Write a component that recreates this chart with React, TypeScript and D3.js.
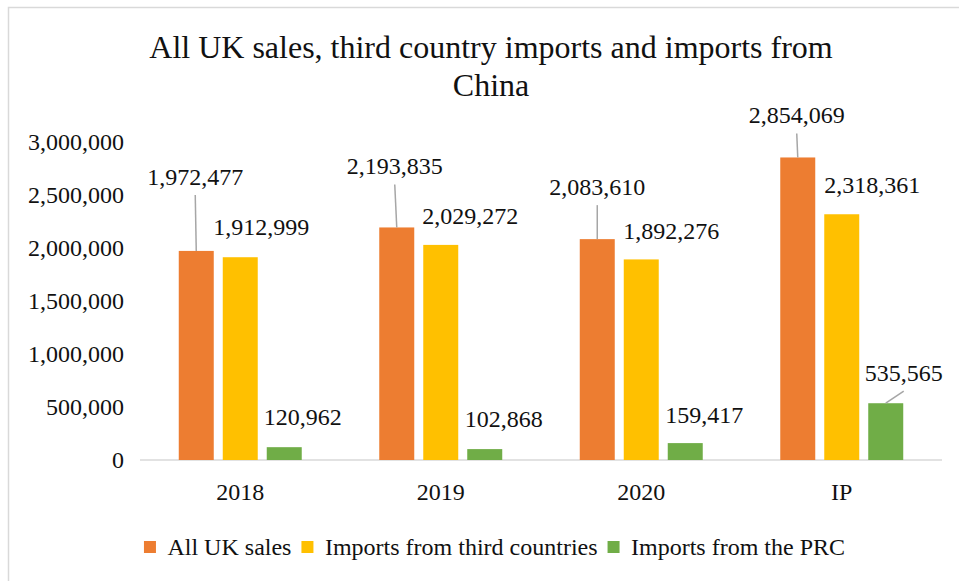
import React from "react";
import * as d3 from "d3";

const categories = ["2018", "2019", "2020", "IP"];
const seriesNames = ["All UK sales", "Imports from third countries", "Imports from the PRC"];
const allUkSales = [1972477, 2193835, 2083610, 2854069];
const thirdCountryImports = [1912999, 2029272, 1892276, 2318361];
const prcImports = [120962, 102868, 159417, 535565];
const yTicks = [0, 500000, 1000000, 1500000, 2000000, 2500000, 3000000];
const titleLines = ["All UK sales, third country imports and imports from", "China"];

// label placement (px, relative to bar top centre) – layout only
const labelNudges = [
  [[-1, -74], [-2, -61], [0, -52], [-1, -42]],
  [[21, -30], [29.5, -28.5], [30, -28.5], [30.5, -29]],
  [[18.5, -30], [19, -30], [19, -28], [18, -30]],
];
const labelLeaders = [
  [true, true, true, true],
  [false, false, false, false],
  [false, false, false, true],
];

const colors = ["#ED7D31", "#FFC000", "#70AD47"];
const FONT = "'Liberation Serif', 'Times New Roman', serif";
const W = 959;
const H = 581;

function measure(text: string, size: number) {
  const c = document.createElement("canvas").getContext("2d");
  if (!c) return text.length * size * 0.45;
  c.font = `${size}px 'Liberation Serif'`;
  return c.measureText(text).width;
}

export default function App() {
  const values = [allUkSales, thirdCountryImports, prcImports];
  const x0 = d3.scaleBand<string>().domain(categories).range([140, 942]).padding(0);
  const x1 = d3
    .scaleBand<string>()
    .domain(seriesNames)
    .range([0, x0.bandwidth()])
    .paddingInner(9 / 44)
    .paddingOuter(0.881);
  const y = d3.scaleLinear().domain([0, 3000000]).range([460, 142]);
  const fmt = d3.format(",");

  // legend layout
  const sq = 12;
  const gapText = 11.5;
  const gapItem = 10;
  const widths = seriesNames.map((s) => measure(s, 24));
  const total = widths.reduce((a, w) => a + sq + gapText + w, 0) + gapItem * (seriesNames.length - 1);
  let lx = 494.5 - total / 2;
  const legendItems = seriesNames.map((s, i) => {
    const item = { name: s, x: lx, color: colors[i] };
    lx += sq + gapText + widths[i] + gapItem;
    return item;
  });

  return (
    <svg
      width={W}
      height={H}
      style={{ position: "absolute", left: 0, top: 0, background: "#fff" }}
      fontFamily={FONT}
    >
      <rect x={0} y={0} width={W} height={H} fill="#fff" />
      <rect x={8.5} y={7.5} width={W + 20} height={H + 20} fill="none" stroke="#D9D9D9" strokeWidth={1.5} />

      {titleLines.map((t, i) => (
        <text key={t} x={491} y={58 + i * 38} textAnchor="middle" fontSize={32} fill="#111">
          {t}
        </text>
      ))}

      {yTicks.map((v) => (
        <text key={v} x={124} y={y(v) + 8} textAnchor="end" fontSize={24} fill="#111">
          {fmt(v)}
        </text>
      ))}

      <line x1={140} x2={942} y1={y(0)} y2={y(0)} stroke="#D9D9D9" strokeWidth={1.5} />

      {categories.map((c) => (
        <text key={c} x={(x0(c) || 0) + x0.bandwidth() / 2} y={500} textAnchor="middle" fontSize={24} fill="#111">
          {c}
        </text>
      ))}

      {seriesNames.map((s, si) =>
        categories.map((c, ci) => {
          const v = values[si][ci];
          const bx = (x0(c) || 0) + (x1(s) || 0);
          const top = y(v);
          return (
            <rect key={s + c} x={bx} y={top} width={x1.bandwidth()} height={y(0) - top} fill={colors[si]} />
          );
        })
      )}

      {seriesNames.map((s, si) =>
        categories.map((c, ci) => {
          const v = values[si][ci];
          const cx = (x0(c) || 0) + (x1(s) || 0) + x1.bandwidth() / 2;
          const top = y(v);
          const [dx, dy] = labelNudges[si][ci];
          const lxC = cx + dx;
          const lyC = top + dy;
          return (
            <g key={"l" + s + c}>
              {labelLeaders[si][ci] && (
                <line x1={cx} y1={top} x2={lxC} y2={lyC + 18} stroke="#A6A6A6" strokeWidth={1.5} />
              )}
              <text x={lxC} y={lyC + 8} textAnchor="middle" fontSize={24} fill="#111">
                {fmt(v)}
              </text>
            </g>
          );
        })
      )}

      {legendItems.map((it) => (
        <g key={it.name}>
          <rect x={it.x} y={547 - sq / 2} width={sq} height={sq} fill={it.color} />
          <text x={it.x + sq + gapText} y={555} fontSize={24} fill="#111">
            {it.name}
          </text>
        </g>
      ))}
    </svg>
  );
}
